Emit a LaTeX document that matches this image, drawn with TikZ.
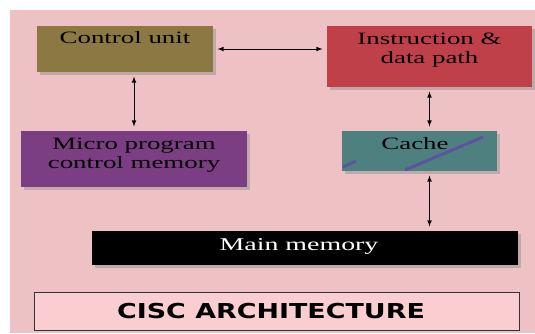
\documentclass[tikz,border=0pt]{standalone}
\usepackage{fontspec}
\setmainfont{Liberation Serif}
\newfontfamily\titlefont{DejaVu Sans}
\usetikzlibrary{shadows}

\definecolor{bgpink}{RGB}{238,193,197}
\definecolor{titlepink}{RGB}{250,206,208}
\definecolor{cuolive}{RGB}{139,120,66}
\definecolor{mppurple}{RGB}{124,62,130}
\definecolor{idpred}{RGB}{192,64,74}
\definecolor{cacheteal}{RGB}{78,128,128}
\definecolor{streak}{RGB}{96,72,168}

\newcommand{\wide}[1]{\scalebox{1.55}[1]{#1}}

\tikzset{every picture/.style={line width=0.75pt}}
\tikzset{
  blockbox/.style={draw=none,inner sep=0pt,
    drop shadow={shadow xshift=2.2pt,shadow yshift=-2.2pt,fill=black!45,opacity=.45}},
  blocktext/.style={inner sep=0pt,align=center,font=\fontsize{13}{14}\selectfont},
  link/.style={<->,>=latex,line width=0.6pt,shorten <=3pt,shorten >=3pt}
}

\begin{document}
\begin{tikzpicture}[x=0.75pt,y=0.75pt,yscale=-1,xscale=1]
	\useasboundingbox (0,0) rectangle (535,333);
	%Background
	\fill [bgpink] (10,10) rectangle (535,333);

	%Shape: Rectangle [Control unit]
	\node (cu) [blockbox,fill=cuolive,minimum width=132pt,minimum height=34.5pt] at (125,49) {};
	%Shape: Rectangle [Micro program]
	\node (mp) [blockbox,fill=mppurple,minimum width=169.5pt,minimum height=42pt] at (134,159) {};
	%Shape: Rectangle [Instruction]
	\node (idp) [blockbox,fill=idpred,minimum width=153.75pt,minimum height=45.75pt] at (429.5,56.5) {};
	%Shape: Rectangle [Cache]
	\node (cache) [blockbox,fill=cacheteal,minimum width=116.25pt,minimum height=30pt] at (419.5,151) {};
	\draw [streak,line width=2.2pt,opacity=.8] (405,170) -- (483,137);
	\draw [streak,line width=2.2pt,opacity=.8] (343,167) -- (356,161);
	%Shape: Rectangle [Main memory]
	\node (mm) [blockbox,fill=black,minimum width=319.5pt,minimum height=25.5pt] at (305,248) {};
	%Shape: Rectangle [Title]
	\node (ttl) [draw=black!80,line width=0.6pt,fill=titlepink,minimum width=363.75pt,minimum height=28.5pt] at (276.5,311) {};

	%Connectors
	\draw [link] (cu.east) -- (cu.east -| idp.west);
	\draw [link] (mp.north |- cu.south) -- (mp.north);
	\draw [link] (idp.south) -- (idp.south |- cache.north);
	\draw [link] (idp.south |- cache.south) -- (idp.south |- mm.north);

	% Text Node
	\node (cutxt) [blocktext] at (125,38) {\wide{Control unit}};
	% Text Node
	\node (mptxt) [blocktext] at (134,155) {\wide{Micro program}\\\wide{control memory}};
	% Text Node
	\node (idptxt) [blocktext] at (429.5,50) {\wide{Instruction \&}\\\wide{data path}};
	% Text Node
	\node (cachetxt) [blocktext] at (415,144) {\wide{Cache}};
	% Text Node
	\node (mmtxt) [blocktext,text=white,font=\fontsize{13.5}{15}\selectfont] at (299,246) {\wide{Main memory}};
	% Text Node
	\node (ttltxt) [inner sep=0pt,font=\titlefont\bfseries\fontsize{15.4}{17}\selectfont] at (271,311) {\scalebox{1.31}[1]{CISC ARCHITECTURE}};

\end{tikzpicture}
\end{document}
